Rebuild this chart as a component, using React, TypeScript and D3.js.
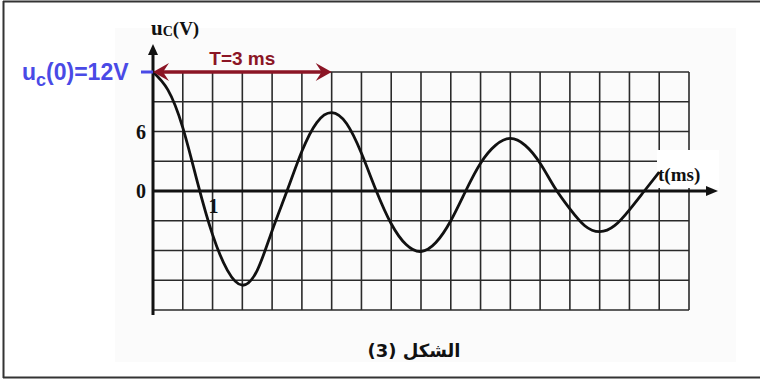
import React, { useEffect, useRef } from 'react';
import * as d3 from 'd3';

// readings taken from the scanned oscillogram (t in ms, u in V)
const times = [0, 0.25, 0.5, 0.75, 1, 1.25, 1.5, 1.75, 2, 2.25, 2.5, 2.75, 3, 3.25, 3.5, 3.75, 4, 4.25, 4.5,
  4.75, 5, 5.25, 5.5, 5.75, 6, 6.25, 6.5, 6.75, 7, 7.25, 7.5, 7.75, 8, 8.25, 8.5];
const voltages = [12, 10.2, 6.4, 0.8, -4.4, -8.0, -9.5, -8.0, -4.0, 0, 4.0, 6.9, 7.9, 6.8, 3.8, 0, -3.3, -5.4, -6.1,
  -5.2, -3.0, 0, 2.8, 4.6, 5.3, 4.6, 2.8, 0.3, -1.8, -3.5, -4.1, -3.5, -1.9, 0, 1.9];

const yTicks = [6, 0];
const xTicks = [1];
const period = 3;
const u0 = 12;

const App = () => {
  const ref = useRef<SVGSVGElement>(null);

  useEffect(() => {
    const svg = d3.select(ref.current);
    svg.selectAll('*').remove();

    const x = d3.scaleLinear().domain([0, 9]).range([153, 689]);
    const y = d3.scaleLinear().domain([-12, 12]).range([310, 72]);

    // frame + faint scan background
    svg.append('rect').attr('x', 115).attr('y', 28).attr('width', 621).attr('height', 334).attr('fill', '#fbfbfb');
    svg.append('line').attr('x1', 3.5).attr('x2', 3.5).attr('y1', 1).attr('y2', 378).attr('stroke', '#333').attr('stroke-width', 2);
    svg.append('line').attr('x1', 3).attr('x2', 760).attr('y1', 1.5).attr('y2', 1.5).attr('stroke', '#333').attr('stroke-width', 2);
    svg.append('line').attr('x1', 3).attr('x2', 760).attr('y1', 377.5).attr('y2', 377.5).attr('stroke', '#333').attr('stroke-width', 2);

    // grid: 0.5 ms by 3 V
    const g = svg.append('g').attr('stroke', '#2a2a2a').attr('stroke-width', 1.6);
    g.selectAll('.vx').data(d3.range(0, 9.01, 0.5)).enter().append('line')
      .attr('x1', d => x(d)).attr('x2', d => x(d)).attr('y1', y(12)).attr('y2', y(-12));
    g.selectAll('.hy').data(d3.range(-12, 12.1, 3)).enter().append('line')
      .attr('x1', x(0)).attr('x2', x(9)).attr('y1', d => y(d)).attr('y2', d => y(d));

    // white patch behind t(ms)
    svg.append('rect').attr('x', 657).attr('y', 150).attr('width', 62).attr('height', 38).attr('fill', '#fff');

    // axes
    svg.append('line').attr('x1', x(0)).attr('x2', x(0)).attr('y1', 50).attr('y2', 315)
      .attr('stroke', '#111').attr('stroke-width', 3);
    svg.append('path').attr('d', `M${x(0)},44 L${x(0) - 5},55 L${x(0) + 5},55 Z`).attr('fill', '#111');
    svg.append('line').attr('x1', x(0)).attr('x2', 710).attr('y1', y(0)).attr('y2', y(0))
      .attr('stroke', '#111').attr('stroke-width', 3);
    svg.append('path').attr('d', `M718,${y(0)} L706,${y(0) - 5} L706,${y(0) + 5} Z`).attr('fill', '#111');

    // curve
    const pts: [number, number][] = times.map((t, i) => [t, voltages[i]]);
    const line = d3.line<[number, number]>()
      .x(d => x(d[0])).y(d => y(d[1]))
      .curve(d3.curveNatural);
    svg.append('path').datum(pts).attr('d', line).attr('fill', 'none')
      .attr('stroke', '#111').attr('stroke-width', 2.8);

    const serif = '"Liberation Serif", "DejaVu Serif", serif';
    const sans = '"Liberation Sans", Arial, sans-serif';

    // tick labels
    svg.selectAll('.yl').data(yTicks).enter().append('text')
      .attr('x', 146).attr('y', d => y(d) + 7).attr('text-anchor', 'end')
      .attr('font-family', serif).attr('font-weight', 'bold').attr('font-size', 20).attr('fill', '#111')
      .text(d => d);
    svg.selectAll('.xl').data(xTicks).enter().append('text')
      .attr('x', d => x(d) + 1).attr('y', y(0) + 22).attr('text-anchor', 'middle')
      .attr('font-family', serif).attr('font-weight', 'bold').attr('font-size', 20).attr('fill', '#111')
      .text(d => d);

    // axis titles
    const ut = svg.append('text').attr('x', 151).attr('y', 35)
      .attr('font-family', serif).attr('font-weight', 'bold').attr('fill', '#111');
    ut.append('tspan').attr('font-size', 21).text('u');
    ut.append('tspan').attr('font-size', 14).attr('dy', 1).text('C');
    ut.append('tspan').attr('font-size', 19).attr('dy', -1).text('(V)');
    svg.append('text').attr('x', 658).attr('y', 181)
      .attr('font-family', serif).attr('font-weight', 'bold').attr('font-size', 19).attr('fill', '#111')
      .text('t(ms)');

    // period arrow
    const red = '#8b1525';
    const ya = y(u0);
    svg.append('line').attr('x1', x(0) + 6).attr('x2', x(period) - 6).attr('y1', ya).attr('y2', ya)
      .attr('stroke', red).attr('stroke-width', 3.5);
    svg.append('path')
      .attr('d', `M${x(0)},${ya} L${x(0) + 16},${ya - 9} L${x(0) + 10},${ya} L${x(0) + 16},${ya + 9} Z`)
      .attr('fill', red);
    svg.append('path')
      .attr('d', `M${x(period)},${ya} L${x(period) - 16},${ya - 9} L${x(period) - 10},${ya} L${x(period) - 16},${ya + 9} Z`)
      .attr('fill', red);
    svg.append('text').attr('x', (x(0) + x(period)) / 2).attr('y', 65).attr('text-anchor', 'middle')
      .attr('font-family', sans).attr('font-weight', 'bold').attr('font-size', 19).attr('fill', red)
      .text(`T=${period} ms`);

    // initial value label
    const blue = '#4a4ae6';
    const bl = svg.append('text').attr('x', 22).attr('y', 80)
      .attr('font-family', sans).attr('font-weight', 'bold').attr('fill', blue);
    bl.append('tspan').attr('font-size', 23).text('u');
    bl.append('tspan').attr('font-size', 18).attr('dy', 6).text('c');
    bl.append('tspan').attr('font-size', 23).attr('dy', -6).text(`(0)=${u0}V`);
    svg.append('line').attr('x1', 141).attr('x2', x(0)).attr('y1', ya).attr('y2', ya)
      .attr('stroke', blue).attr('stroke-width', 3);

    // caption
    svg.append('text').attr('x', 414).attr('y', 357).attr('text-anchor', 'middle').attr('direction', 'rtl')
      .attr('font-family', '"DejaVu Sans", sans-serif').attr('font-weight', 'bold').attr('font-size', 18)
      .attr('fill', '#111').text('الشكل (3)');
  }, []);

  return (
    <svg ref={ref} width={760} height={383}
      style={{ position: 'absolute', left: 0, top: 0, background: '#fff' }} />
  );
};

export default App;
